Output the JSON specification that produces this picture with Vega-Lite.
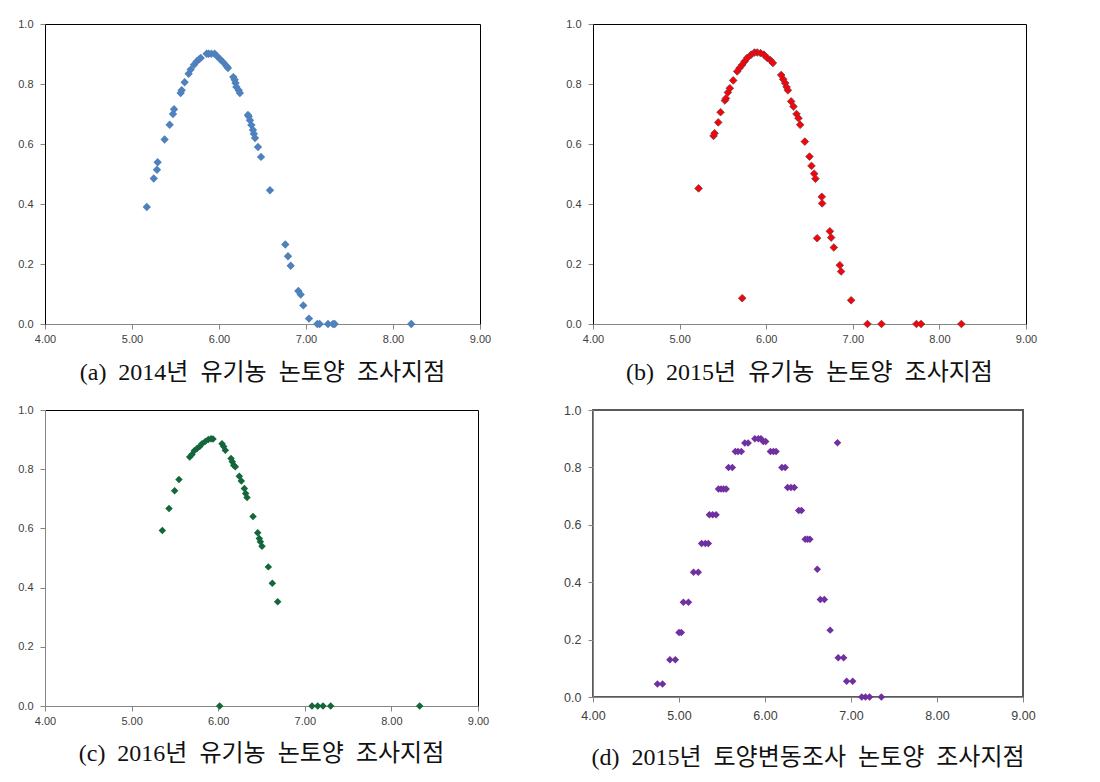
{
  "$schema": "https://vega.github.io/schema/vega-lite/v6.json",
  "background": "white",
  "padding": {"left": 17, "top": 18, "right": 5, "bottom": 5},
  "columns": 2,
  "spacing": {"row": 86, "column": 113},
  "bounds": "flush",
  "config": {
    "view": {"stroke": null},
    "axis": {
      "grid": false,
      "title": null,
      "labelFont": "Liberation Sans",
      "labelFontSize": 11,
      "labelColor": "#404040",
      "tickColor": "#868686",
      "tickSize": 5,
      "domainColor": "#868686"
    },
    "axisX": {"labelPadding": 4},
    "title": {"font": "Liberation Serif, Noto Sans CJK KR", "fontSize": 24, "fontWeight": "normal", "color": "#111111", "orient": "bottom", "anchor": "middle", "offset": 17}
  },
  "datasets": {
    "a": [
      {"ph": 5.17, "v": 0.39}, {"ph": 5.25, "v": 0.485}, {"ph": 5.287, "v": 0.514}, {"ph": 5.295, "v": 0.539},
      {"ph": 5.375, "v": 0.615}, {"ph": 5.433, "v": 0.664}, {"ph": 5.471, "v": 0.70}, {"ph": 5.483, "v": 0.716},
      {"ph": 5.559, "v": 0.77}, {"ph": 5.571, "v": 0.779}, {"ph": 5.605, "v": 0.806}, {"ph": 5.651, "v": 0.834},
      {"ph": 5.674, "v": 0.848}, {"ph": 5.713, "v": 0.864}, {"ph": 5.743, "v": 0.875}, {"ph": 5.774, "v": 0.883},
      {"ph": 5.79, "v": 0.887}, {"ph": 5.858, "v": 0.901}, {"ph": 5.881, "v": 0.901}, {"ph": 5.912, "v": 0.901},
      {"ph": 5.95, "v": 0.901}, {"ph": 5.981, "v": 0.892}, {"ph": 6.011, "v": 0.883}, {"ph": 6.05, "v": 0.872},
      {"ph": 6.088, "v": 0.859}, {"ph": 6.103, "v": 0.853}, {"ph": 6.165, "v": 0.823}, {"ph": 6.18, "v": 0.814},
      {"ph": 6.19, "v": 0.803}, {"ph": 6.20, "v": 0.79}, {"ph": 6.226, "v": 0.779}, {"ph": 6.24, "v": 0.77},
      {"ph": 6.333, "v": 0.697}, {"ph": 6.341, "v": 0.692}, {"ph": 6.356, "v": 0.679}, {"ph": 6.372, "v": 0.663},
      {"ph": 6.39, "v": 0.647}, {"ph": 6.40, "v": 0.634}, {"ph": 6.414, "v": 0.62}, {"ph": 6.448, "v": 0.59},
      {"ph": 6.483, "v": 0.557}, {"ph": 6.586, "v": 0.446}, {"ph": 6.762, "v": 0.265}, {"ph": 6.793, "v": 0.226},
      {"ph": 6.824, "v": 0.194}, {"ph": 6.912, "v": 0.11}, {"ph": 6.939, "v": 0.098}, {"ph": 6.969, "v": 0.062},
      {"ph": 7.034, "v": 0.018}, {"ph": 7.13, "v": 0}, {"ph": 7.157, "v": 0}, {"ph": 7.253, "v": 0},
      {"ph": 7.31, "v": 0}, {"ph": 7.33, "v": 0}, {"ph": 8.21, "v": 0}
    ],
    "b": [
      {"ph": 5.219, "v": 0.452}, {"ph": 5.392, "v": 0.627}, {"ph": 5.404, "v": 0.636}, {"ph": 5.446, "v": 0.672},
      {"ph": 5.473, "v": 0.706}, {"ph": 5.523, "v": 0.745}, {"ph": 5.535, "v": 0.752}, {"ph": 5.558, "v": 0.772},
      {"ph": 5.58, "v": 0.786}, {"ph": 5.619, "v": 0.812}, {"ph": 5.665, "v": 0.842}, {"ph": 5.692, "v": 0.853},
      {"ph": 5.723, "v": 0.864}, {"ph": 5.75, "v": 0.875}, {"ph": 5.781, "v": 0.887}, {"ph": 5.827, "v": 0.898},
      {"ph": 5.865, "v": 0.905}, {"ph": 5.896, "v": 0.905}, {"ph": 5.935, "v": 0.903}, {"ph": 5.973, "v": 0.898},
      {"ph": 6.012, "v": 0.887}, {"ph": 6.05, "v": 0.879}, {"ph": 6.077, "v": 0.87}, {"ph": 6.173, "v": 0.83},
      {"ph": 6.196, "v": 0.816}, {"ph": 6.219, "v": 0.803}, {"ph": 6.235, "v": 0.79}, {"ph": 6.25, "v": 0.779},
      {"ph": 6.288, "v": 0.742}, {"ph": 6.315, "v": 0.725}, {"ph": 6.35, "v": 0.70}, {"ph": 6.373, "v": 0.686},
      {"ph": 6.392, "v": 0.664}, {"ph": 6.446, "v": 0.608}, {"ph": 6.50, "v": 0.558}, {"ph": 6.523, "v": 0.527},
      {"ph": 6.554, "v": 0.501}, {"ph": 6.569, "v": 0.484}, {"ph": 6.588, "v": 0.286}, {"ph": 6.642, "v": 0.424},
      {"ph": 6.646, "v": 0.402}, {"ph": 6.735, "v": 0.309}, {"ph": 6.75, "v": 0.288}, {"ph": 6.781, "v": 0.255},
      {"ph": 6.85, "v": 0.196}, {"ph": 6.865, "v": 0.175}, {"ph": 6.981, "v": 0.079}, {"ph": 5.723, "v": 0.086},
      {"ph": 7.169, "v": 0}, {"ph": 7.331, "v": 0}, {"ph": 7.735, "v": 0}, {"ph": 7.788, "v": 0}, {"ph": 8.254, "v": 0}
    ],
    "c": [
      {"ph": 5.355, "v": 0.593}, {"ph": 5.432, "v": 0.667}, {"ph": 5.497, "v": 0.727}, {"ph": 5.547, "v": 0.765},
      {"ph": 5.671, "v": 0.841}, {"ph": 5.697, "v": 0.85}, {"ph": 5.724, "v": 0.862}, {"ph": 5.755, "v": 0.87},
      {"ph": 5.786, "v": 0.877}, {"ph": 5.813, "v": 0.886}, {"ph": 5.851, "v": 0.894}, {"ph": 5.886, "v": 0.90},
      {"ph": 5.917, "v": 0.903}, {"ph": 5.94, "v": 0.902}, {"ph": 6.044, "v": 0.886}, {"ph": 6.063, "v": 0.877},
      {"ph": 6.082, "v": 0.864}, {"ph": 6.148, "v": 0.836}, {"ph": 6.163, "v": 0.825}, {"ph": 6.179, "v": 0.813},
      {"ph": 6.198, "v": 0.808}, {"ph": 6.244, "v": 0.776}, {"ph": 6.267, "v": 0.76}, {"ph": 6.302, "v": 0.735},
      {"ph": 6.317, "v": 0.718}, {"ph": 6.333, "v": 0.704}, {"ph": 6.402, "v": 0.64}, {"ph": 6.456, "v": 0.585},
      {"ph": 6.475, "v": 0.566}, {"ph": 6.487, "v": 0.555}, {"ph": 6.506, "v": 0.54}, {"ph": 6.579, "v": 0.47},
      {"ph": 6.625, "v": 0.415}, {"ph": 6.687, "v": 0.352}, {"ph": 6.017, "v": 0}, {"ph": 7.083, "v": 0},
      {"ph": 7.149, "v": 0}, {"ph": 7.21, "v": 0}, {"ph": 7.299, "v": 0}, {"ph": 8.327, "v": 0}
    ],
    "d": [
      {"ph": 4.749, "v": 0.045}, {"ph": 4.808, "v": 0.045}, {"ph": 4.894, "v": 0.13}, {"ph": 4.957, "v": 0.13},
      {"ph": 5.0, "v": 0.225}, {"ph": 5.027, "v": 0.225}, {"ph": 5.051, "v": 0.33}, {"ph": 5.11, "v": 0.33},
      {"ph": 5.169, "v": 0.435}, {"ph": 5.224, "v": 0.435}, {"ph": 5.263, "v": 0.535}, {"ph": 5.306, "v": 0.535},
      {"ph": 5.341, "v": 0.535}, {"ph": 5.353, "v": 0.635}, {"ph": 5.392, "v": 0.635}, {"ph": 5.431, "v": 0.635},
      {"ph": 5.459, "v": 0.725}, {"ph": 5.49, "v": 0.725}, {"ph": 5.518, "v": 0.725}, {"ph": 5.549, "v": 0.725},
      {"ph": 5.576, "v": 0.80}, {"ph": 5.62, "v": 0.80}, {"ph": 5.655, "v": 0.855}, {"ph": 5.686, "v": 0.855},
      {"ph": 5.725, "v": 0.855}, {"ph": 5.765, "v": 0.885}, {"ph": 5.804, "v": 0.885}, {"ph": 5.882, "v": 0.90},
      {"ph": 5.922, "v": 0.90}, {"ph": 5.953, "v": 0.90}, {"ph": 5.98, "v": 0.89}, {"ph": 6.008, "v": 0.89},
      {"ph": 6.063, "v": 0.855}, {"ph": 6.098, "v": 0.855}, {"ph": 6.129, "v": 0.855}, {"ph": 6.196, "v": 0.80},
      {"ph": 6.235, "v": 0.80}, {"ph": 6.263, "v": 0.73}, {"ph": 6.302, "v": 0.73}, {"ph": 6.341, "v": 0.73},
      {"ph": 6.392, "v": 0.65}, {"ph": 6.424, "v": 0.65}, {"ph": 6.467, "v": 0.55}, {"ph": 6.494, "v": 0.55},
      {"ph": 6.522, "v": 0.55}, {"ph": 6.608, "v": 0.445}, {"ph": 6.643, "v": 0.34}, {"ph": 6.69, "v": 0.34},
      {"ph": 6.757, "v": 0.233}, {"ph": 6.851, "v": 0.137}, {"ph": 6.914, "v": 0.137}, {"ph": 6.949, "v": 0.055},
      {"ph": 7.02, "v": 0.055}, {"ph": 7.125, "v": 0}, {"ph": 7.169, "v": 0}, {"ph": 7.216, "v": 0},
      {"ph": 7.353, "v": 0}, {"ph": 6.843, "v": 0.886}
    ]
  },
  "concat": [
    {
      "width": 435, "height": 300,
      "data": {"name": "a"},
      "title": {"text": "(a)\u00a0\u00a02014년\u00a0\u00a0유기농\u00a0\u00a0논토양\u00a0\u00a0조사지점"},
      "layer": [
        {
          "mark": {"type": "point", "shape": "diamond", "filled": true, "size": 70, "color": "#4f81bd", "opacity": 1},
          "encoding": {
            "x": {"field": "ph", "type": "quantitative", "scale": {"domain": [4, 9], "nice": false, "zero": false}, "axis": {"values": [4, 5, 6, 7, 8, 9], "format": ".2f", "labelFlush": false}},
            "y": {"field": "v", "type": "quantitative", "scale": {"domain": [0, 1], "nice": false}, "axis": {"values": [0, 0.2, 0.4, 0.6, 0.8, 1.0], "format": ".1f", "domainColor": "black", "labelPadding": 7}}
          }
        },
        {
          "mark": {"type": "point", "opacity": 0},
          "encoding": {
            "x": {"field": "ph", "type": "quantitative", "axis": {"orient": "top", "labels": false, "ticks": false, "domainColor": "black"}},
            "y": {"field": "v", "type": "quantitative", "axis": {"orient": "right", "labels": false, "ticks": false, "domainColor": "black"}}
          }
        }
      ],
      "resolve": {"axis": {"x": "independent", "y": "independent"}}
    },
    {
      "width": 433, "height": 300,
      "data": {"name": "b"},
      "title": {"text": "(b)\u00a0\u00a02015년\u00a0\u00a0유기농\u00a0\u00a0논토양\u00a0\u00a0조사지점"},
      "layer": [
        {
          "mark": {"type": "point", "shape": "diamond", "filled": true, "size": 58, "color": "#ff0000", "stroke": "#6a3a55", "strokeWidth": 0.8, "opacity": 1},
          "encoding": {
            "x": {"field": "ph", "type": "quantitative", "scale": {"domain": [4, 9], "nice": false, "zero": false}, "axis": {"values": [4, 5, 6, 7, 8, 9], "format": ".2f", "labelFlush": false}},
            "y": {"field": "v", "type": "quantitative", "scale": {"domain": [0, 1], "nice": false}, "axis": {"values": [0, 0.2, 0.4, 0.6, 0.8, 1.0], "format": ".1f", "domainColor": "black", "labelPadding": 7}}
          }
        },
        {
          "mark": {"type": "point", "opacity": 0},
          "encoding": {
            "x": {"field": "ph", "type": "quantitative", "axis": {"orient": "top", "labels": false, "ticks": false, "domainColor": "black"}},
            "y": {"field": "v", "type": "quantitative", "axis": {"orient": "right", "labels": false, "ticks": false, "domainColor": "black"}}
          }
        }
      ],
      "resolve": {"axis": {"x": "independent", "y": "independent"}}
    },
    {
      "width": 433, "height": 296,
      "data": {"name": "c"},
      "title": {"text": "(c)\u00a0\u00a02016년\u00a0\u00a0유기농\u00a0\u00a0논토양\u00a0\u00a0조사지점", "offset": 16},
      "layer": [
        {
          "mark": {"type": "point", "shape": "diamond", "filled": true, "size": 56, "color": "#13673a", "opacity": 1},
          "encoding": {
            "x": {"field": "ph", "type": "quantitative", "scale": {"domain": [4, 9], "nice": false, "zero": false}, "axis": {"values": [4, 5, 6, 7, 8, 9], "format": ".2f", "labelFlush": false}},
            "y": {"field": "v", "type": "quantitative", "scale": {"domain": [0, 1], "nice": false}, "axis": {"values": [0, 0.2, 0.4, 0.6, 0.8, 1.0], "format": ".1f", "labelPadding": 7}}
          }
        },
        {
          "mark": {"type": "point", "opacity": 0},
          "encoding": {
            "x": {"field": "ph", "type": "quantitative", "axis": {"orient": "top", "labels": false, "ticks": false, "domainColor": "black"}},
            "y": {"field": "v", "type": "quantitative", "axis": {"orient": "right", "labels": false, "ticks": false, "domainColor": "black"}}
          }
        }
      ],
      "resolve": {"axis": {"x": "independent", "y": "independent"}}
    },
    {
      "width": 430, "height": 287,
      "data": {"name": "d"},
      "view": {"stroke": "#595959", "strokeWidth": 2},
      "title": {"text": "(d)\u00a0\u00a02015년\u00a0\u00a0토양변동조사\u00a0\u00a0논토양\u00a0\u00a0조사지점", "offset": 24},
      "mark": {"type": "point", "shape": "diamond", "filled": true, "size": 56, "color": "#7030a0", "opacity": 1},
      "encoding": {
        "x": {"field": "ph", "type": "quantitative", "scale": {"domain": [4, 9], "nice": false, "zero": false}, "axis": {"values": [4, 5, 6, 7, 8, 9], "format": ".2f", "labelFlush": false, "labelFontSize": 12.5, "labelPadding": 7}},
        "y": {"field": "v", "type": "quantitative", "scale": {"domain": [0, 1], "nice": false}, "axis": {"values": [0, 0.2, 0.4, 0.6, 0.8, 1.0], "format": ".1f", "labelPadding": 7, "labelFontSize": 12.5}}
      }
    }
  ]
}
